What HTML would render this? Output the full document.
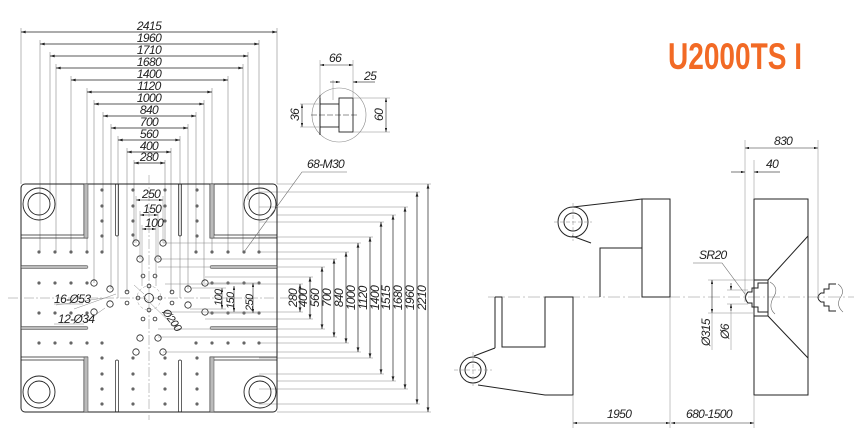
<!DOCTYPE html>
<html><head><meta charset="utf-8"><style>
html,body{margin:0;padding:0;background:#fff;}
svg{display:block;}
text{font-family:"Liberation Sans",sans-serif;font-style:italic;fill:#222;}
</style></head><body>
<svg width="854" height="435" viewBox="0 0 854 435" xmlns="http://www.w3.org/2000/svg">
<defs>
<marker id="a" viewBox="0 0 10 6" refX="10" refY="3" markerWidth="7" markerHeight="4" orient="auto-start-reverse"><path d="M0,0L10,3L0,6z" fill="#222"/></marker>
</defs>
<g stroke="#888" stroke-width="0.6" fill="none">
<!-- top extension lines -->
<path d="M21,28V184M277,28V184M40,40V252M259,40V252M50,52V200M248,52V200M56,64V252M243,64V252M71,76V252M228,76V252M87,88V252M212,88V252M94,100V283M204,100V283M103,112V252M196,112V252M111,124V289M188,124V289M118,136V298M180,136V298M127,148V292M171,148V292M134,160V243M165,160V243"/>
<!-- right extension lines -->
<path d="M277,184H431M259,192H420M259,207H408M277,215H396M259,222H384M259,237H373M163,243H361M259,252H349M158,259H337M158,267H325M205,277H313M165,284H303M165,312H303M205,319H313M158,329H325M158,337H337M259,343H349M163,352H361M259,358H373M259,374H384M277,381H396M259,389H408M259,404H420M277,412H431"/>
</g>
<g stroke="#222" stroke-width="0.7" marker-start="url(#a)" marker-end="url(#a)" fill="none">
<line x1="21" y1="32" x2="277" y2="32"/><line x1="40" y1="44" x2="259" y2="44"/><line x1="50" y1="56" x2="248" y2="56"/><line x1="56" y1="68" x2="243" y2="68"/><line x1="71" y1="80" x2="228" y2="80"/><line x1="87" y1="92" x2="212" y2="92"/><line x1="94" y1="104" x2="204" y2="104"/><line x1="103" y1="116" x2="196" y2="116"/><line x1="111" y1="128" x2="188" y2="128"/><line x1="118" y1="140" x2="180" y2="140"/><line x1="127" y1="152" x2="171" y2="152"/><line x1="134" y1="163" x2="165" y2="163"/>
<line x1="428" y1="184" x2="428" y2="412"/><line x1="417" y1="192" x2="417" y2="404"/><line x1="405" y1="207" x2="405" y2="389"/><line x1="393" y1="215" x2="393" y2="381"/><line x1="381" y1="222" x2="381" y2="374"/><line x1="370" y1="237" x2="370" y2="358"/><line x1="358" y1="243" x2="358" y2="352"/><line x1="346" y1="252" x2="346" y2="343"/><line x1="334" y1="259" x2="334" y2="337"/><line x1="322" y1="267" x2="322" y2="329"/><line x1="310" y1="277" x2="310" y2="319"/><line x1="300" y1="284" x2="300" y2="312"/>
</g>
<g font-size="12" text-anchor="middle" letter-spacing="-0.6">
<text x="149" y="30">2415</text><text x="149" y="42">1960</text><text x="149" y="54">1710</text><text x="149" y="66">1680</text><text x="149" y="78">1400</text><text x="149" y="90">1120</text><text x="149" y="102">1000</text><text x="149" y="114">840</text><text x="149" y="126">700</text><text x="149" y="138">560</text><text x="149" y="150">400</text><text x="149" y="161">280</text>
</g>
<g font-size="12" text-anchor="middle" letter-spacing="-0.6">
<text transform="translate(297,298) rotate(-90)">280</text>
<text transform="translate(307,298) rotate(-90)">400</text>
<text transform="translate(319,298) rotate(-90)">560</text>
<text transform="translate(331,298) rotate(-90)">700</text>
<text transform="translate(343,298) rotate(-90)">840</text>
<text transform="translate(355,298) rotate(-90)">1000</text>
<text transform="translate(367,298) rotate(-90)">1120</text>
<text transform="translate(379,298) rotate(-90)">1400</text>
<text transform="translate(390,298) rotate(-90)">1515</text>
<text transform="translate(402,298) rotate(-90)">1680</text>
<text transform="translate(414,298) rotate(-90)">1960</text>
<text transform="translate(426,298) rotate(-90)">2210</text>
</g>
<!-- plate -->
<rect x="21" y="184" width="256" height="228" rx="4" fill="none" stroke="#222" stroke-width="1"/>
<g stroke="#222" stroke-width="0.8" fill="none">
<path d="M21,235H84V184M21,238H88M210,184V238H277M214,184V235H277"/>
<path d="M21,357H88M21,360H84V412M277,357H210V412M277,360H214"/>
</g>
<g fill="#bbb" stroke="#444" stroke-width="0.5">
<rect x="84" y="184" width="4" height="54"/><rect x="210" y="184" width="4" height="54"/>
<rect x="84" y="357" width="4" height="55"/><rect x="210" y="357" width="4" height="55"/>
<rect x="21" y="265.5" width="67" height="3" rx="1.5"/><rect x="210" y="265.5" width="67" height="3" rx="1.5"/>
<rect x="21" y="326.5" width="67" height="3" rx="1.5"/><rect x="210" y="326.5" width="67" height="3" rx="1.5"/>
</g>
<g fill="none" stroke="#222" stroke-width="0.7">
<rect x="115.5" y="184" width="3" height="52" rx="1.5"/><rect x="178.5" y="184" width="3" height="52" rx="1.5"/>
<rect x="115.5" y="360" width="3" height="52" rx="1.5"/><rect x="178.5" y="360" width="3" height="52" rx="1.5"/>
</g>
<g fill="none" stroke="#222" stroke-width="0.9">
<circle cx="39" cy="204" r="16"/><circle cx="39" cy="204" r="11"/>
<circle cx="260" cy="204" r="16"/><circle cx="260" cy="204" r="11"/>
<circle cx="39" cy="392" r="16"/><circle cx="39" cy="392" r="11"/>
<circle cx="260" cy="392" r="16"/><circle cx="260" cy="392" r="11"/>
</g>
<g stroke="#888" stroke-width="0.5" stroke-dasharray="10,2,2,2">
<line x1="8" y1="298" x2="292" y2="298"/><line x1="149" y1="175" x2="149" y2="420"/>
</g>
<!-- dots -->
<g fill="#666">
<circle cx="39" cy="252" r="1.6"/><circle cx="55" cy="252" r="1.6"/><circle cx="71" cy="252" r="1.6"/><circle cx="87" cy="252" r="1.6"/><circle cx="102" cy="252" r="1.6"/>
<circle cx="196" cy="252" r="1.6"/><circle cx="212" cy="252" r="1.6"/><circle cx="228" cy="252" r="1.6"/><circle cx="244" cy="252" r="1.6"/><circle cx="259" cy="252" r="1.6"/>
<circle cx="39" cy="343" r="1.6"/><circle cx="55" cy="343" r="1.6"/><circle cx="71" cy="343" r="1.6"/><circle cx="87" cy="343" r="1.6"/><circle cx="102" cy="343" r="1.6"/>
<circle cx="196" cy="343" r="1.6"/><circle cx="212" cy="343" r="1.6"/><circle cx="228" cy="343" r="1.6"/><circle cx="244" cy="343" r="1.6"/><circle cx="259" cy="343" r="1.6"/>
<circle cx="39" cy="283" r="1.6"/><circle cx="55" cy="283" r="1.6"/><circle cx="71" cy="283" r="1.6"/><circle cx="87" cy="283" r="1.6"/>
<circle cx="212" cy="283" r="1.6"/><circle cx="228" cy="283" r="1.6"/><circle cx="244" cy="283" r="1.6"/><circle cx="259" cy="283" r="1.6"/>
<circle cx="39" cy="313" r="1.6"/><circle cx="55" cy="313" r="1.6"/><circle cx="71" cy="313" r="1.6"/><circle cx="87" cy="313" r="1.6"/>
<circle cx="212" cy="313" r="1.6"/><circle cx="228" cy="313" r="1.6"/><circle cx="244" cy="313" r="1.6"/><circle cx="259" cy="313" r="1.6"/>
<circle cx="102" cy="190" r="1.6"/><circle cx="102" cy="206" r="1.6"/><circle cx="102" cy="221" r="1.6"/><circle cx="102" cy="236" r="1.6"/>
<circle cx="197" cy="190" r="1.6"/><circle cx="197" cy="206" r="1.6"/><circle cx="197" cy="221" r="1.6"/><circle cx="197" cy="236" r="1.6"/>
<circle cx="133" cy="190" r="1.6"/><circle cx="133" cy="206" r="1.6"/><circle cx="133" cy="221" r="1.6"/><circle cx="133" cy="235" r="1.6"/>
<circle cx="165" cy="190" r="1.6"/><circle cx="165" cy="206" r="1.6"/><circle cx="165" cy="221" r="1.6"/>
<circle cx="102" cy="358" r="1.6"/><circle cx="102" cy="374" r="1.6"/><circle cx="102" cy="389" r="1.6"/><circle cx="102" cy="404" r="1.6"/>
<circle cx="197" cy="358" r="1.6"/><circle cx="197" cy="374" r="1.6"/><circle cx="197" cy="389" r="1.6"/><circle cx="197" cy="404" r="1.6"/>
<circle cx="133" cy="358" r="1.6"/><circle cx="133" cy="374" r="1.6"/><circle cx="133" cy="389" r="1.6"/><circle cx="133" cy="404" r="1.6"/>
<circle cx="165" cy="358" r="1.6"/><circle cx="165" cy="374" r="1.6"/><circle cx="165" cy="389" r="1.6"/><circle cx="165" cy="404" r="1.6"/>
</g>
<g fill="none" stroke="#222" stroke-width="0.8">
<circle cx="136" cy="243" r="3.2"/><circle cx="163" cy="243" r="3.2"/><circle cx="140" cy="259" r="3.2"/><circle cx="158" cy="259" r="3.2"/>
<circle cx="94" cy="283" r="3.2"/><circle cx="110" cy="289" r="3.2"/><circle cx="110" cy="304" r="3.2"/><circle cx="94" cy="312" r="3.2"/>
<circle cx="188" cy="289" r="3.2"/><circle cx="188" cy="305" r="3.2"/><circle cx="205" cy="283" r="3.2"/><circle cx="205" cy="312" r="3.2"/>
<circle cx="140" cy="338" r="3.2"/><circle cx="158" cy="338" r="3.2"/><circle cx="136" cy="352" r="3.2"/><circle cx="163" cy="352" r="3.2"/>
<circle cx="143" cy="276" r="1.9"/><circle cx="155" cy="276" r="1.9"/><circle cx="149" cy="286" r="1.9"/><circle cx="138" cy="298" r="1.9"/><circle cx="160" cy="298" r="1.9"/><circle cx="149" cy="310" r="1.9"/>
<circle cx="127" cy="292" r="1.9"/><circle cx="127" cy="303" r="1.9"/><circle cx="172" cy="292" r="1.9"/><circle cx="172" cy="303" r="1.9"/><circle cx="143" cy="319" r="1.9"/><circle cx="155" cy="319" r="1.9"/>
<circle cx="149" cy="298" r="4.5"/>
</g>
<circle cx="149" cy="298" r="12" fill="none" stroke="#999" stroke-width="0.5" stroke-dasharray="3,2"/>
<!-- inner dims -->
<g stroke="#222" stroke-width="0.6" marker-start="url(#a)" marker-end="url(#a)">
<line x1="136" y1="200" x2="163" y2="200"/><line x1="140" y1="215" x2="158" y2="215"/><line x1="142" y1="229" x2="156" y2="229"/>
<line x1="222" y1="288" x2="222" y2="309"/><line x1="234" y1="286" x2="234" y2="312"/><line x1="253" y1="283" x2="253" y2="313"/>
</g>
<g stroke="#888" stroke-width="0.5"><path d="M136,196V243M163,196V243M140,211V259M158,211V259M142,225V286M156,225V286M190,288H226M190,309H226M208,283H257M208,313H257M143,296L176,328M134,285L144,294M116,294L74,309M104,298L56,305M105,308L84,323M83,304L54,304M84,324L54,324"/></g>
<g font-size="12" letter-spacing="-0.6">
<text x="142" y="198">250</text><text x="143" y="213">150</text><text x="145" y="227">100</text>
<text transform="translate(222,306) rotate(-90)" font-size="11">100</text>
<text transform="translate(234,309) rotate(-90)" font-size="11">150</text>
<text transform="translate(253,311) rotate(-90)" font-size="11">250</text>
<text transform="translate(162,312) rotate(55)" font-size="11">Ø200</text>
<text x="54" y="303">16-Ø53</text><text x="58" y="323">12-Ø34</text>
<text x="307" y="168">68-M30</text>
</g>
<path d="M347,172H302L244,252" fill="none" stroke="#666" stroke-width="0.6"/>
<!-- top detail -->
<circle cx="339" cy="115" r="27" fill="none" stroke="#888" stroke-width="0.6"/>
<g fill="#fff" stroke="#222" stroke-width="0.9"><rect x="320" y="104" width="19" height="23"/><rect x="339" y="98" width="14" height="34"/></g>
<line x1="320" y1="95" x2="320" y2="135" stroke="#222" stroke-width="1"/>
<line x1="311" y1="115" x2="358" y2="115" stroke="#222" stroke-width="0.6" stroke-dasharray="6,2"/>
<g stroke="#888" stroke-width="0.5"><path d="M320,60V98M353,60V98M333,80V100M300,104H320M300,127H320M353,98H390M353,132H390"/></g>
<g stroke="#222" stroke-width="0.6" marker-start="url(#a)" marker-end="url(#a)">
<line x1="320" y1="65" x2="353" y2="65"/><line x1="302" y1="104" x2="302" y2="127"/><line x1="386" y1="98" x2="386" y2="132"/>
</g>
<g stroke="#222" stroke-width="0.6"><line x1="330" y1="82" x2="340" y2="82" marker-end="url(#a)"/><line x1="364" y1="82" x2="353" y2="82" marker-end="url(#a)"/><line x1="364" y1="82" x2="375" y2="82"/></g>
<g font-size="12" letter-spacing="-0.6"><text x="329" y="62">66</text><text x="364" y="80">25</text>
<text transform="translate(299,121) rotate(-90)">36</text><text transform="translate(383,121) rotate(-90)">60</text></g>
<!-- title -->
<text x="668" y="69" font-size="37" font-weight="bold" font-style="normal" textLength="134" lengthAdjust="spacingAndGlyphs" style="fill:#f26a25;font-style:normal">U2000TS I</text>
<!-- right side drawing -->
<line x1="488" y1="297" x2="854" y2="297" stroke="#888" stroke-width="0.5" stroke-dasharray="12,3,2,3"/>
<g fill="none" stroke="#222" stroke-width="1">
<rect x="642" y="199" width="28" height="98"/>
<path d="M642,248H600V297"/>
<path d="M573,207L642,199M572,236L591,243"/>
<circle cx="573" cy="222" r="15"/><circle cx="573" cy="222" r="9"/>
<path d="M495,297V348M495,297H502V347H545V297H573V395H545L478,385"/>
<path d="M474,356L495,348"/>
<circle cx="473" cy="370" r="13"/><circle cx="473" cy="370" r="8"/>
<rect x="754" y="199" width="54" height="196"/>
<path d="M768,280L808,236M768,316L808,358"/>
<path d="M754,280H768V316H754"/>
<path d="M768,283H758V288H752V292H748Q743,297.5 748,303H752V307H758V312H768"/>
<path d="M836,284H829V289H824V293H821Q815,297.5 821,302H824V306H829V311H836"/>
</g>
<g fill="none" stroke="#666" stroke-width="0.6">
<path d="M770,282Q780,288 773,298Q768,308 775,314"/><path d="M838,284Q846,290 840,298Q836,306 843,312"/>
</g>
<g stroke="#888" stroke-width="0.5" stroke-dasharray="4,2"><path d="M573,203V241M554,222H592M473,352V388M454,370H492"/></g>
<g stroke="#888" stroke-width="0.5"><path d="M573,395V428M670,297V428M754,395V428M745,140V302M818,140V297M754,160V199M708,280H754M708,313H754M727,290H748M727,304H748M712,313V350M731,304V350"/></g>
<g stroke="#222" stroke-width="0.6" marker-start="url(#a)" marker-end="url(#a)">
<line x1="573" y1="423" x2="670" y2="423"/><line x1="671" y1="423" x2="754" y2="423"/><line x1="745" y1="148" x2="818" y2="148"/>
<line x1="712" y1="280" x2="712" y2="313"/>
</g>
<g stroke="#222" stroke-width="0.6"><line x1="731" y1="283" x2="731" y2="290" marker-end="url(#a)"/><line x1="731" y1="311" x2="731" y2="304" marker-end="url(#a)"/>
<line x1="731" y1="172" x2="745" y2="172" marker-end="url(#a)"/><line x1="768" y1="172" x2="754" y2="172" marker-end="url(#a)"/><line x1="768" y1="172" x2="780" y2="172"/></g>
<path d="M693,263H722L745,294" fill="none" stroke="#666" stroke-width="0.6"/>
<g font-size="12" letter-spacing="-0.6">
<text x="607" y="418">1950</text><text x="686" y="418">680-1500</text>
<text x="774" y="145">830</text><text x="766" y="168">40</text>
<text x="699" y="259">SR20</text>
<text transform="translate(710,346) rotate(-90)">Ø315</text>
<text transform="translate(729,339) rotate(-90)">Ø6</text>
</g>
</svg>
</body></html>
